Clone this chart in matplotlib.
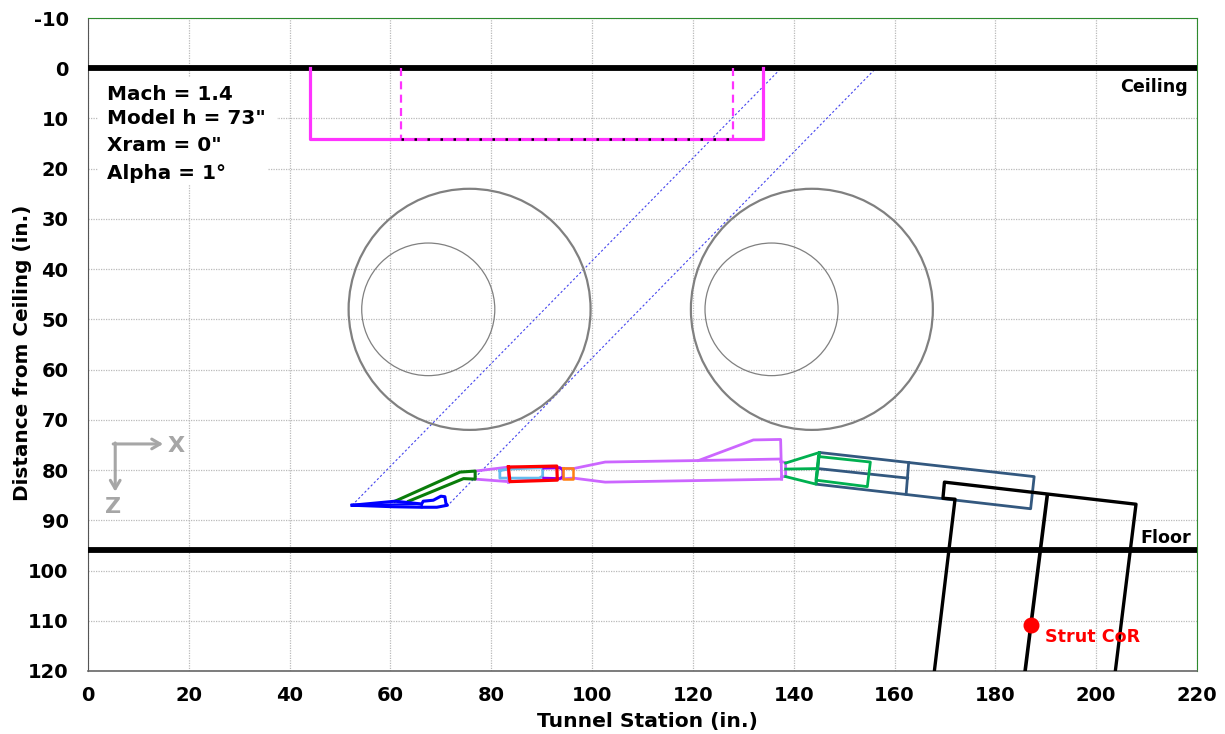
import matplotlib
matplotlib.use('Agg')
import matplotlib.pyplot as plt
from matplotlib.patches import Ellipse, Rectangle

plt.rcParams['font.family'] = 'DejaVu Sans'
plt.rcParams['axes.unicode_minus'] = False

# Wind tunnel layout, everything in inches
ceiling_y = 0
floor_y = 96

cart_x = [44, 44, 134, 134]
cart_y = [0, 14, 14, 0]
cart_dash_x = [62, 128]
cart_depth = 14

# Diagonal shock lines
shock1_x = [52.4, 137.5]
shock1_y = [87, 0]
shock2_x = [71.8, 156.3]
shock2_y = [86.6, 0]

# Windows: centre x, centre y, radius
outer_windows = [(75.7, 48, 24), (143.6, 48, 24)]
inner_windows = [(67.5, 48, 13.2), (135.6, 48, 13.2)]

nose_x = [52.4, 60.9, 66.2, 66.5, 68.5, 70.0, 70.8, 71.0, 71.3, 69.2, 66.2, 60.6, 52.4]
nose_y = [87.0, 86.2, 86.75, 86.2, 86.0, 85.2, 85.3, 86.6, 87.0, 87.4, 87.4, 87.3, 87.0]
nose_inner_x = [52.4, 66.2, 66.2]
nose_inner_y = [87.0, 86.75, 87.4]

fore_x = [60.9, 73.8, 76.8, 76.8, 74.5, 63.6]
fore_y = [86.2, 80.4, 80.2, 81.8, 81.7, 86.2]

body_top_x = [76.8, 83.4, 96.3, 102.6, 121.1, 137.4]
body_top_y = [80.2, 79.4, 79.7, 78.4, 78.1, 77.8]
body_bot_x = [76.8, 83.4, 96.3, 102.6, 137.6]
body_bot_y = [81.8, 82.3, 81.6, 82.4, 81.8]
body_rib_x = [83.4, 83.4]
body_rib_y = [79.4, 82.3]
fin_x = [121.1, 132.0, 137.4, 137.6]
fin_y = [78.1, 74.0, 73.9, 81.8]
tail_x = [137.4, 138.4, 138.4, 137.6]
tail_y = [78.3, 78.5, 81.2, 81.4]

blue_part_x = [81.7, 83.4, 90.2, 90.2, 89.5, 81.7, 81.7]
blue_part_y = [80.1, 79.8, 79.5, 81.2, 81.6, 81.6, 80.1]
red_part_x = [83.4, 93.0, 93.1, 83.7, 83.4]
red_part_y = [79.4, 79.2, 82.0, 82.3, 79.4]
violet_part_x = [90.4, 93.6, 94.2, 94.2, 93.6, 90.4]
violet_part_y = [79.6, 79.5, 80.0, 81.3, 81.7, 81.6]
orange_part_x = [94.2, 96.3, 96.3, 94.2, 94.2]
orange_part_y = [79.6, 79.6, 81.7, 81.7, 79.6]

adapter_x = [138.4, 145.1, 144.4, 138.4]
adapter_y = [78.6, 76.5, 82.8, 81.3]
adapter_mid_x = [138.4, 144.6]
adapter_mid_y = [79.8, 79.7]
adapter_box_x = [144.9, 155.2, 154.6, 144.4, 144.9]
adapter_box_y = [77.3, 78.4, 83.3, 82.0, 77.3]

sting_x = [145.1, 187.7, 187.0, 144.4, 145.1]
sting_y = [76.5, 81.3, 87.7, 82.8, 76.5]
sting_rib_x = [162.8, 162.3]
sting_rib_y = [78.5, 84.8]
sting_mid_x = [144.8, 162.6]
sting_mid_y = [79.7, 81.6]

strut_x = [167.9, 172.0, 169.6, 169.9, 207.9, 203.8]
strut_y = [120, 85.8, 85.6, 82.4, 86.8, 120]
strut_mid_x = [190.3, 185.9]
strut_mid_y = [85.0, 120]
cor_x = 187.1
cor_y = 110.9

x_ticks = list(range(0, 221, 20))
y_ticks = list(range(-10, 121, 10))

notes = ['Mach = 1.4', 'Model h = 73"', 'Xram = 0"', 'Alpha = 1°']
note_y = [5.3, 10.0, 15.4, 21.0]

fig = plt.figure(figsize=(12.25, 7.34), dpi=100)
ax = fig.add_axes([88 / 1225, 1 - 671 / 734, (1197 - 88) / 1225, (671 - 18) / 734])

ax.set_xlim(0, 220)
ax.set_ylim(120, -10)
ax.set_xticks(x_ticks)
ax.set_yticks(y_ticks)
ax.tick_params(length=0, labelsize=14)
ax.tick_params(axis='x', pad=11)
ax.tick_params(axis='y', pad=14)
for lab in ax.get_xticklabels() + ax.get_yticklabels():
    lab.set_fontweight('bold')
ax.grid(True, color='#bababa', linewidth=0.9, linestyle=(0, (1, 1)))
ax.set_axisbelow(True)
ax.set_xlabel('Tunnel Station (in.)', fontsize=14.6, fontweight='bold')
ax.set_ylabel('Distance from Ceiling (in.)', fontsize=14.4, fontweight='bold')
ax.xaxis.set_label_coords((647 - 88) / 1109, (671 - 721) / 653, transform=ax.transAxes)
ax.xaxis.label.set_va('center')
ax.yaxis.set_label_coords((23 - 88) / 1109, (671 - 353) / 653, transform=ax.transAxes)
ax.yaxis.label.set_va('center')

ax.spines['top'].set_color('#2e8b2e')
ax.spines['right'].set_color('#2e8b2e')
ax.spines['left'].set_color('#555555')
ax.spines['bottom'].set_color('#666666')
ax.spines['bottom'].set_linewidth(1.2)

# White panel behind the run notes hides the grid there
ax.add_patch(Rectangle((2, 1.7), 35.5, 11.3, facecolor='white', edgecolor='none', zorder=1.5))
ax.add_patch(Rectangle((2, 13), 33.7, 10, facecolor='white', edgecolor='none', zorder=1.5))

ax.axhline(ceiling_y, color='black', linewidth=4.2, zorder=3)
ax.axhline(floor_y, color='black', linewidth=4.2, zorder=3)

# Cart
pink = '#ff33ff'
ax.plot(cart_x, cart_y, color=pink, linewidth=2.3, zorder=4)
for x in cart_dash_x:
    ax.plot([x, x], [0, cart_depth], color=pink, linewidth=1.6, linestyle=(0, (3.6, 2.4)), zorder=4)
ax.plot(cart_dash_x, [cart_depth, cart_depth], color='black', linewidth=1.8, linestyle=(0, (1, 4.2)), zorder=5)

ax.plot(shock1_x, shock1_y, color='#4444ee', linewidth=0.8, linestyle=(0, (2, 2)), zorder=2)
ax.plot(shock2_x, shock2_y, color='#4444ee', linewidth=0.8, linestyle=(0, (2, 2)), zorder=2)

for cx, cy, r in outer_windows:
    ax.add_patch(Ellipse((cx, cy), 2 * r, 2 * r, fill=False, edgecolor='#808080', linewidth=1.6, zorder=2))
for cx, cy, r in inner_windows:
    ax.add_patch(Ellipse((cx, cy), 2 * r, 2 * r, fill=False, edgecolor='#808080', linewidth=0.9, zorder=2))

# Model parts
lilac = '#cc66ff'
for xs, ys in [(body_top_x, body_top_y), (body_bot_x, body_bot_y), (body_rib_x, body_rib_y),
               (fin_x, fin_y), (tail_x, tail_y)]:
    ax.plot(xs, ys, color=lilac, linewidth=2, zorder=4)
ax.plot(blue_part_x, blue_part_y, color='#66bbee', linewidth=2, zorder=5)
ax.plot(violet_part_x, violet_part_y, color='#8800ee', linewidth=2, zorder=5)
ax.plot(orange_part_x, orange_part_y, color='#ff7f11', linewidth=1.8, zorder=5)
ax.plot(red_part_x, red_part_y, color='#ff0000', linewidth=2.3, zorder=6)
ax.plot(fore_x, fore_y, color='#0a7d0a', linewidth=2.2, zorder=5)
ax.plot(nose_x, nose_y, color='#0000ff', linewidth=2.2, zorder=6)
ax.plot(nose_inner_x, nose_inner_y, color='#0000ff', linewidth=1.6, zorder=6)

steel = '#33587f'
for xs, ys in [(sting_x, sting_y), (sting_rib_x, sting_rib_y), (sting_mid_x, sting_mid_y)]:
    ax.plot(xs, ys, color=steel, linewidth=2, zorder=5)
green = '#00b050'
for xs, ys in [(adapter_x, adapter_y), (adapter_mid_x, adapter_mid_y), (adapter_box_x, adapter_box_y)]:
    ax.plot(xs, ys, color=green, linewidth=2, zorder=5)

ax.plot(strut_x, strut_y, color='black', linewidth=2.4, zorder=6)
ax.plot(strut_mid_x, strut_mid_y, color='black', linewidth=2.6, zorder=6)
ax.plot([cor_x], [cor_y], 'o', color='#ff0000', markersize=10.5, zorder=7)
ax.text(189.9, 113.2, 'Strut CoR', color='#ff0000', fontsize=12.6, fontweight='bold', va='center', zorder=7)

# Run notes
for s, y in zip(notes, note_y):
    ax.text(3.8, y, s, fontsize=14.4, fontweight='bold', va='center', zorder=8)

ax.text(218.25, 3.7, 'Ceiling', fontsize=12.6, fontweight='bold', ha='right', va='center', zorder=8)
ax.text(218.8, 93.6, 'Floor', fontsize=12.6, fontweight='bold', ha='right', va='center', zorder=8)

# Axis key
key = '#a6a6a6'
ax.annotate('', xy=(14.9, 74.8), xytext=(5.0, 74.8), zorder=8,
            arrowprops=dict(arrowstyle='->,head_width=0.35,head_length=0.6', color=key, linewidth=2.2, shrinkA=0, shrinkB=0))
ax.annotate('', xy=(5.4, 84.3), xytext=(5.4, 74.6), zorder=8,
            arrowprops=dict(arrowstyle='->,head_width=0.35,head_length=0.6', color=key, linewidth=2.2, shrinkA=0, shrinkB=0))
ax.text(17.5, 75.2, 'X', color=key, fontsize=16, fontweight='bold', ha='center', va='center')
ax.text(5, 87.3, 'Z', color=key, fontsize=16, fontweight='bold', ha='center', va='center')

fig.savefig('out.png', dpi=100, facecolor='white')
